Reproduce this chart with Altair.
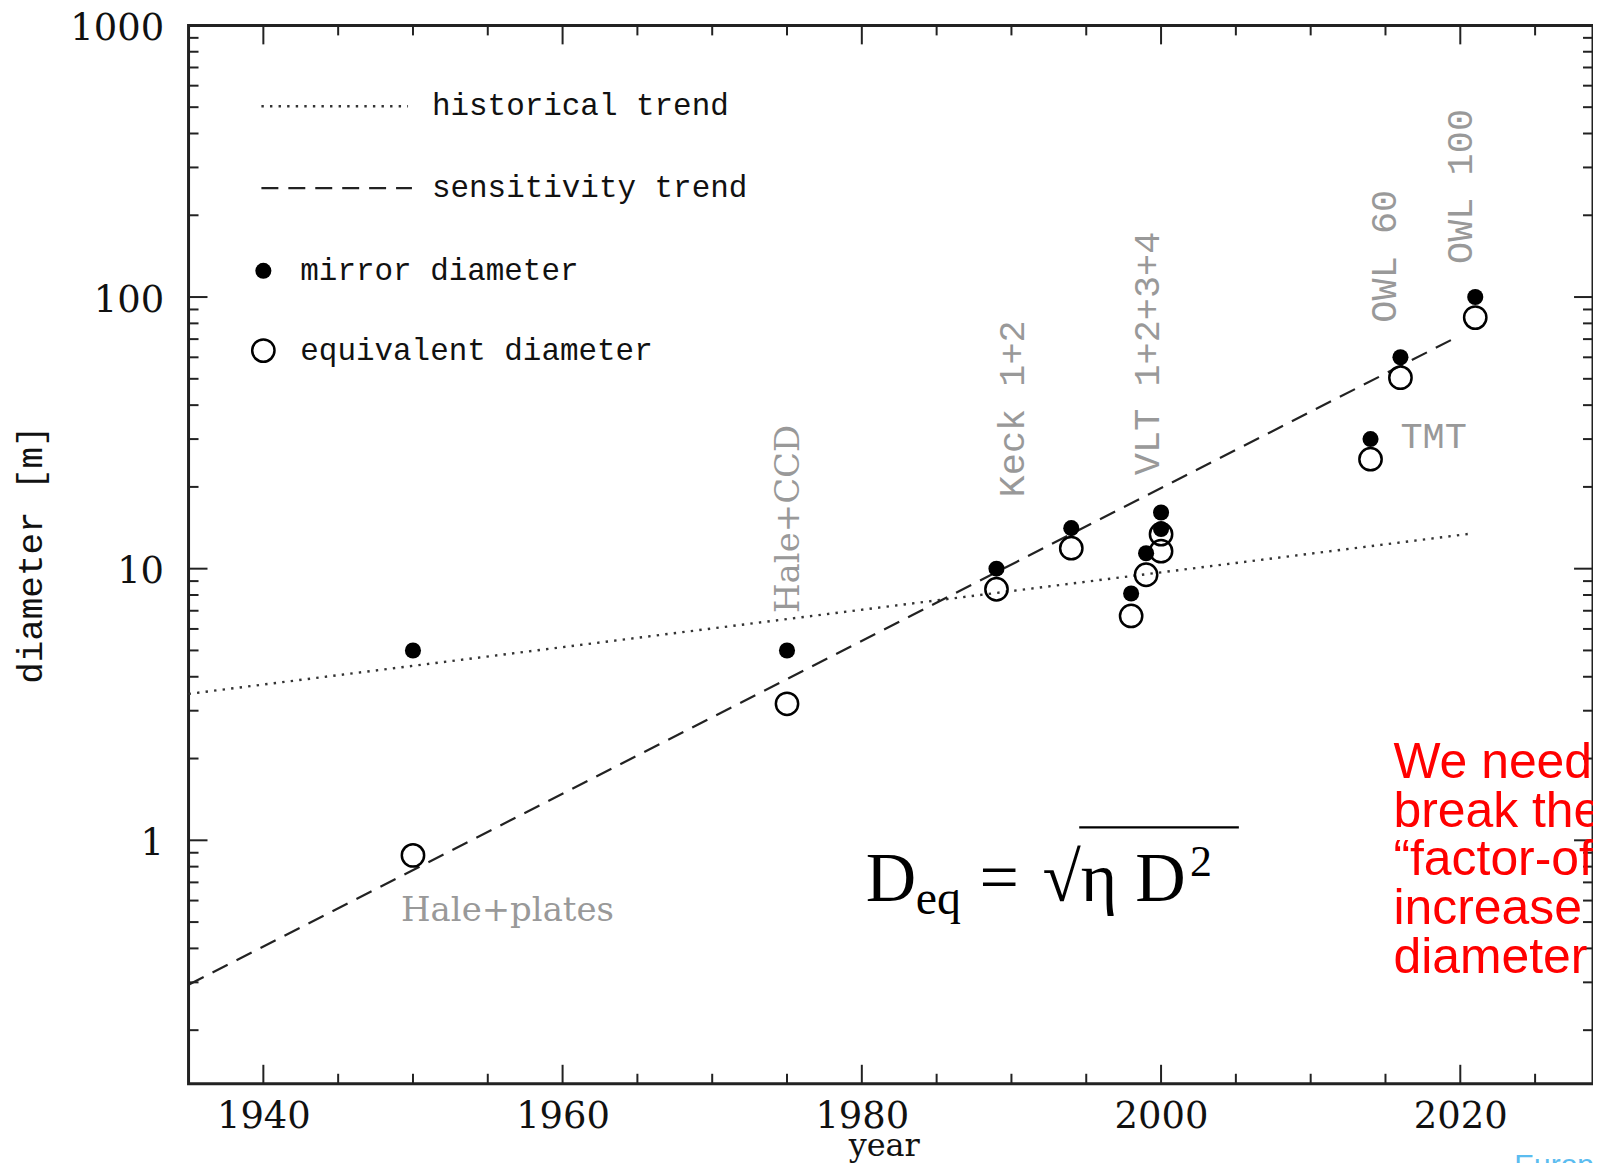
import altair as alt
import pandas as pd

# ---------------- data ----------------
years = [1950, 1975, 1989, 1994, 1998, 1999, 2000, 2000, 2014, 2016, 2021]
mirror_diam = [5.0, 5.0, 10.0, 14.1, 8.1, 11.4, 14.0, 16.1, 30.0, 60.0, 100.0]
equiv_diam = [0.88, 3.18, 8.4, 11.9, 6.7, 9.5, 13.4, 11.6, 25.3, 50.5, 84.0]

hist_years = [1935, 2020.9]
hist_vals = [3.46, 13.5]
sens_years = [1935, 2019.7]
sens_vals = [0.294, 70.9]

x_major = [1940, 1960, 1980, 2000, 2020]
x_minor = [1945, 1950, 1955, 1965, 1970, 1975, 1985, 1990, 1995, 2005, 2010, 2015, 2025]
y_major = [1, 10, 100, 1000]
y_minor = [0.2, 0.3, 0.4, 0.5, 0.6, 0.7, 0.8, 0.9,
           2, 3, 4, 5, 6, 7, 8, 9,
           20, 30, 40, 50, 60, 70, 80, 90,
           200, 300, 400, 500, 600, 700, 800, 900]

rot_labels = ["Keck 1+2", "VLT 1+2+3+4", "OWL 60", "OWL 100"]
rot_x = [1990.13, 1999.13, 2015.0, 2020.07]
rot_y = [18.3, 22.1, 80.5, 132.4]

legend_labels = ["historical trend", "sensitivity trend", "mirror diameter", "equivalent diameter"]
legend_x = [1951.27, 1951.27, 1942.47, 1942.47]
legend_y = [504, 251.8, 124.9, 63.5]

red_text = "We need\nbreak the\n\u201cfactor-of\nincrease\ndiameter"

# ---------------- layout ----------------
W, H = 1408, 1061
XD = [1935, 2028.87]
YD = [0.127, 1000]

xscale = alt.Scale(domain=XD, nice=False, zero=False)
yscale = alt.Scale(type="log", domain=YD, nice=False)

x_axis = alt.Axis(values=x_major, format="d", ticks=False, tickSize=0, domain=False, grid=False,
                  labelFont="DejaVu Serif", labelFontSize=37, labelColor="#111",
                  labelPadding=15, labelFlush=False, labelOverlap=False,
                  title="year", titleFont="DejaVu Serif", titleFontSize=32,
                  titleFontWeight="normal", titleColor="#111",
                  titleX=697, titleY=72, titleBaseline="alphabetic", titleAlign="center")
y_axis = alt.Axis(values=y_major, format="d", ticks=False, tickSize=0, domain=False, grid=False,
                  labelFont="DejaVu Serif", labelFontSize=37, labelColor="#111",
                  labelPadding=25, labelFlush=False, labelOverlap=False,
                  labelBaseline="alphabetic", labelOffset=14,
                  title="diameter [m]", titleFont="Liberation Mono", titleFontSize=36,
                  titleFontWeight="normal", titleColor="#111",
                  titleX=-158, titleY=530, titleAngle=270, titleAlign="center",
                  titleBaseline="middle")


def X(f, t="year"):
    return alt.X(f"{f}:Q", scale=xscale, axis=x_axis, title=t)


def Y(f, t="diameter [m]"):
    return alt.Y(f"{f}:Q", scale=yscale, axis=y_axis, title=t)


pts = pd.DataFrame({"x": years, "m": mirror_diam, "e": equiv_diam})
hist = pd.DataFrame({"x": hist_years, "y": hist_vals})
sens = pd.DataFrame({"x": sens_years, "y": sens_vals})

layers = []

# inward ticks
TMAJ, TMIN = 19, 10
tick_style = dict(color="#222", strokeWidth=2)
for vals, ln in [(x_major, TMAJ), (x_minor, TMIN)]:
    d = pd.DataFrame({"x": vals})
    layers.append(alt.Chart(d).mark_rule(**tick_style).encode(
        x=X("x"), y=alt.value(H), y2=alt.value(H - ln)))
    layers.append(alt.Chart(d).mark_rule(**tick_style).encode(
        x=X("x"), y=alt.value(0), y2=alt.value(ln)))
for vals, ln in [(y_major, TMAJ), (y_minor, TMIN)]:
    d = pd.DataFrame({"y": vals})
    layers.append(alt.Chart(d).mark_rule(**tick_style).encode(
        y=Y("y"), x=alt.value(0), x2=alt.value(ln)))
    layers.append(alt.Chart(d).mark_rule(**tick_style).encode(
        y=Y("y"), x=alt.value(W), x2=alt.value(W - ln)))

# trend lines
dotted = dict(color="#333", strokeWidth=2.4, strokeDash=[2.4, 6.2])
dashed = dict(color="#222", strokeWidth=2.2, strokeDash=[17, 10])
layers.append(alt.Chart(hist).mark_line(**dotted).encode(x=X("x"), y=Y("y")))
layers.append(alt.Chart(sens).mark_line(**dashed).encode(x=X("x"), y=Y("y")))

# points
open_style = dict(shape="circle", filled=False, stroke="black", strokeWidth=2.5, size=500, opacity=1)
fill_style = dict(color="black", size=260, opacity=1)
layers.append(alt.Chart(pts).mark_point(**open_style).encode(x=X("x"), y=Y("e")))
layers.append(alt.Chart(pts).mark_circle(**fill_style).encode(x=X("x"), y=Y("m")))

# legend (drawn inside the plot)
leg_dot = pd.DataFrame({"x": [1939.87, 1949.67], "y": [504, 504]})
leg_dash = pd.DataFrame({"x": [1939.87, 1949.93], "y": [251.8, 251.8]})
layers.append(alt.Chart(leg_dot).mark_line(**dotted).encode(x=X("x"), y=Y("y")))
layers.append(alt.Chart(leg_dash).mark_line(**dashed).encode(x=X("x"), y=Y("y")))
layers.append(alt.Chart(pd.DataFrame({"x": [1940.0], "y": [124.9]})).mark_circle(**fill_style)
              .encode(x=X("x"), y=Y("y")))
layers.append(alt.Chart(pd.DataFrame({"x": [1940.0], "y": [63.5]})).mark_point(**open_style)
              .encode(x=X("x"), y=Y("y")))
leg = pd.DataFrame({"x": legend_x, "y": legend_y, "t": legend_labels})
layers.append(alt.Chart(leg).mark_text(font="Liberation Mono", fontSize=31, color="#111",
                                       align="left", baseline="middle")
              .encode(x=X("x"), y=Y("y"), text="t:N"))

# telescope annotations
rot = pd.DataFrame({"x": rot_x, "y": rot_y, "t": rot_labels})
layers.append(alt.Chart(rot).mark_text(font="Liberation Mono", fontSize=37, color="#999",
                                       align="left", baseline="middle", angle=270)
              .encode(x=X("x"), y=Y("y"), text="t:N"))
layers.append(alt.Chart(pd.DataFrame({"x": [1975.13], "y": [6.87], "t": ["Hale+CCD"]}))
              .mark_text(font="DejaVu Serif", fontSize=34, color="#999",
                         align="left", baseline="middle", angle=270)
              .encode(x=X("x"), y=Y("y"), text="t:N"))
layers.append(alt.Chart(pd.DataFrame({"x": [2016.0], "y": [30.4], "t": ["TMT"]}))
              .mark_text(font="Liberation Mono", fontSize=37, color="#999",
                         align="left", baseline="middle")
              .encode(x=X("x"), y=Y("y"), text="t:N"))
layers.append(alt.Chart(pd.DataFrame({"x": [1949.2], "y": [0.548], "t": ["Hale+plates"]}))
              .mark_text(font="DejaVu Serif", fontSize=34, color="#999",
                         align="left", baseline="middle")
              .encode(x=X("x"), y=Y("y"), text="t:N"))

# formula D_eq = sqrt(eta D^2)
formula = pd.DataFrame({
    "x": [1980.27, 1983.6, 1987.87, 1992.07, 1998.27, 2001.93],
    "y": [0.5965, 0.5346, 0.5965, 0.5965, 0.5965, 0.737],
    "t": ["D", "eq", "=", "\u221a\u03b7", "D", "2"],
    "fs": [70, 48, 70, 70, 70, 44],
})
layers.append(alt.Chart(formula).mark_text(font="Liberation Serif", color="black",
                                           align="left", baseline="alphabetic")
              .encode(x=X("x"), y=Y("y"), text="t:N", size=alt.Size("fs:Q", scale=None)))
layers.append(alt.Chart(pd.DataFrame({"x": [1994.53], "x2": [2005.2], "y": [1.115]}))
              .mark_rule(color="black", strokeWidth=2.2)
              .encode(x=X("x"), x2="x2:Q", y=Y("y")))

# red slide note
layers.append(alt.Chart(pd.DataFrame({"x": [2015.53], "y": [1.70], "t": [red_text]}))
              .mark_text(font="Liberation Sans", fontSize=50, color="#ff0000", align="left",
                         baseline="alphabetic", lineBreak="\n", lineHeight=49)
              .encode(x=X("x"), y=Y("y"), text="t:N"))

# cut-off footer fragment at the bottom right
layers.append(alt.Chart(pd.DataFrame({"x": [2023.6], "y": [0.0585], "t": ["European"]}))
              .mark_text(font="Liberation Sans", fontSize=30, color="#5bbcf0", align="left",
                         baseline="alphabetic")
              .encode(x=X("x"), y=Y("y"), text="t:N"))

chart = alt.layer(*layers).properties(
    width=W, height=H,
    padding={"left": 181, "top": 16, "right": 0, "bottom": 78},
    autosize=alt.AutoSizeParams(type="none"),
).configure_view(stroke="#222", strokeWidth=3)

chart.save("out.html", embed_options={"renderer": "svg", "actions": False})
